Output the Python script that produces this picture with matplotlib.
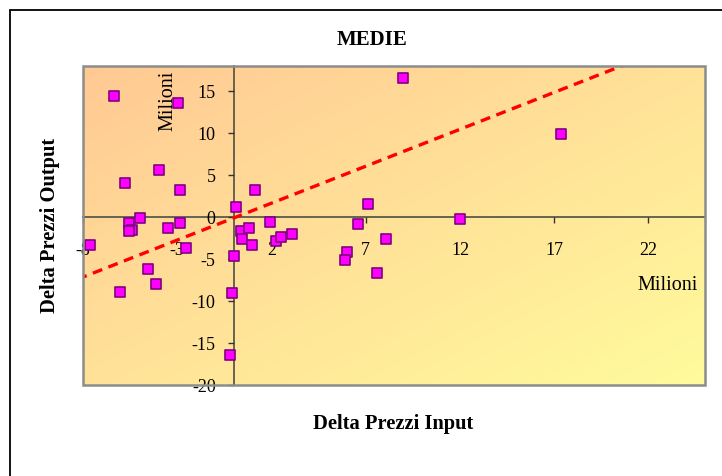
import matplotlib.pyplot as plt
import numpy as np
from matplotlib.colors import LinearSegmentedColormap
from matplotlib.patches import Rectangle

# dati (milioni)
delta_input = [-6.36, -2.95, -5.76, -3.96, -2.88, 0.13, 1.11, -5.55, -5.42, -5.55,
               -4.96, -3.48, -2.88, 1.91, -7.65, -2.56, -4.54, -4.15, -6.04, 0.36,
               0.83, 0.42, 0.94, 0.0, -0.09, -0.19, 2.25, 2.51, 3.11, 9.0,
               17.38, 7.1, 6.61, 12.0, 8.1, 6.01, 5.9, 7.6]
delta_output = [14.4, 13.6, 4.1, 5.6, 3.2, 1.2, 3.2, -0.75, -1.5, -1.7,
                -0.15, -1.35, -0.7, -0.6, -3.3, -3.7, -6.2, -8.0, -8.9, -1.66,
                -1.27, -2.6, -3.3, -4.6, -9.1, -16.4, -2.8, -2.4, -2.0, 16.6,
                9.86, 1.6, -0.83, -0.2, -2.65, -4.2, -5.15, -6.65]

# linea di tendenza
trend_slope = 0.88
trend_intercept = -0.1

x_ticks = [-8, -3, 2, 7, 12, 17, 22]
y_ticks = [-20, -15, -10, -5, 0, 5, 10, 15]

plt.rcParams['font.family'] = ['Liberation Serif', 'DejaVu Serif']
plt.rcParams['axes.unicode_minus'] = False

fig = plt.figure(figsize=(7.22, 4.76), dpi=100)
ax = fig.add_axes([83 / 722, 1 - 385 / 476, 622 / 722, 319 / 476])
ax.set_xlim(-8, 25)
ax.set_ylim(-20, 18)

# sfondo sfumato arancio (alto sx) -> giallo (basso dx)
cmap = LinearSegmentedColormap.from_list('sfondo', ['#FFC994', '#FFFB9C'])
gx, gy = np.meshgrid(np.linspace(0, 1, 200), np.linspace(0, 1, 200))
grad = (gx + gy) / 2
ax.imshow(grad, cmap=cmap, extent=[0, 1, 0, 1], transform=ax.transAxes,
          aspect='auto', origin='upper', zorder=0)
ax.add_patch(Rectangle((0, 0), 1, 1, transform=ax.transAxes, fill=False,
                       edgecolor='#8c8c8c', linewidth=1.8, zorder=5, clip_on=False))

# assi che si incrociano nello zero
for s in ['top', 'right']:
    ax.spines[s].set_visible(False)
for s in ['left', 'bottom']:
    ax.spines[s].set_position(('data', 0))
    ax.spines[s].set_color('#5a5a4a')
    ax.spines[s].set_linewidth(1.3)
    ax.spines[s].set_zorder(1)

ax.set_xticks(x_ticks)
ax.set_yticks(y_ticks)
ax.tick_params(axis='x', direction='out', length=4, width=1, pad=14,
               labelsize=13, colors='#333333', labelcolor='black')
ax.tick_params(axis='y', direction='out', length=4, width=1, pad=9,
               labelsize=13, colors='#333333', labelcolor='black')

# tendenza
xt = np.linspace(-8.3, 25, 50)
ax.plot(xt, trend_slope * xt + trend_intercept, color='#FF0000', linewidth=2.4,
        linestyle=(0, (3, 2)), zorder=3)

ax.scatter(delta_input, delta_output, marker='s', s=58, facecolor='#FF00FF',
           edgecolor='#800080', linewidth=1.2, zorder=4, clip_on=False)

ax.text(-3.5, 13.8, 'Milioni', rotation=90, fontsize=14.5, ha='center', va='center')
ax.text(21.4, -8.1, 'Milioni', fontsize=14.5, ha='left', va='center')

fig.text(372 / 722, 1 - 40 / 476, 'MEDIE', fontsize=15, fontweight='bold',
         ha='center', va='center')
fig.text(393 / 722, 1 - 424 / 476, 'Delta Prezzi Input', fontsize=14.8,
         fontweight='bold', ha='center', va='center')
fig.text(50 / 722, 1 - 225 / 476, 'Delta Prezzi Output', fontsize=14.8,
         fontweight='bold', rotation=90, ha='center', va='center')

# cornice esterna
fig.add_artist(Rectangle((9.5 / 722, -0.02), 1.0, 1 - 9.5 / 476 + 0.02,
                         transform=fig.transFigure, fill=False,
                         edgecolor='black', linewidth=1.3))

fig.savefig('out.png', dpi=100)
